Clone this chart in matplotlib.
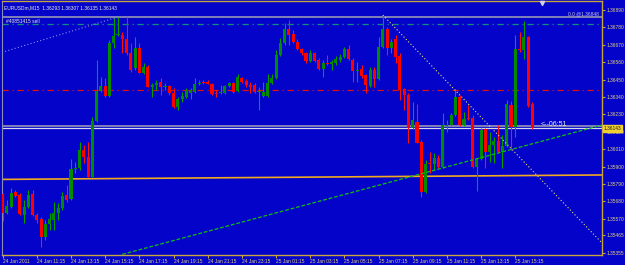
import matplotlib
matplotlib.use("Agg")
import matplotlib.pyplot as plt
import numpy as np

# EURUSDm M15, 24-25 Jan 2011, one value per bar
opens = [1.35727, 1.35607, 1.35645, 1.35740, 1.35721, 1.35594, 1.35645, 1.35727, 1.35594, 1.35569,
         1.35455, 1.35537, 1.35563, 1.35607, 1.35639, 1.35721, 1.35696, 1.35885, 1.35891, 1.36005,
         1.35961, 1.35834, 1.36189, 1.36378, 1.36410, 1.36346, 1.36681, 1.36732, 1.36732, 1.36707,
         1.36618, 1.36523, 1.36650, 1.36492, 1.36530, 1.36403, 1.36416, 1.36435, 1.36403, 1.36410,
         1.36365, 1.36277, 1.36327, 1.36340, 1.36365, 1.36372, 1.36422, 1.36435, 1.36435, 1.36422,
         1.36365, 1.36365, 1.36365, 1.36410, 1.36428, 1.36378, 1.36460, 1.36441, 1.36416, 1.36416,
         1.36372, 1.36346, 1.36346, 1.36428, 1.36460, 1.36605, 1.36681, 1.36770, 1.36738, 1.36688,
         1.36643, 1.36618, 1.36568, 1.36618, 1.36574, 1.36517, 1.36555, 1.36549, 1.36555, 1.36574,
         1.36593, 1.36643, 1.36574, 1.36504, 1.36517, 1.36479, 1.36410, 1.36511, 1.36454, 1.36656,
         1.36770, 1.36650, 1.36707, 1.36599, 1.36391, 1.36353, 1.36144, 1.36182, 1.36056, 1.35740,
         1.35923, 1.35917, 1.35954, 1.35898, 1.36157, 1.36163, 1.36226, 1.36340, 1.36163, 1.36207,
         1.36207, 1.35898, 1.35948, 1.36138, 1.35993, 1.36037, 1.36062, 1.35993, 1.36031, 1.36289,
         1.36151, 1.36643, 1.36637, 1.36719, 1.36293]
highs = [1.35733, 1.35690, 1.35765, 1.35752, 1.35733, 1.35690, 1.35752, 1.35752, 1.35607, 1.35582,
         1.35563, 1.35607, 1.35677, 1.35671, 1.35740, 1.35784, 1.35948, 1.35929, 1.36056, 1.36037,
         1.36056, 1.36214, 1.36574, 1.36466, 1.36460, 1.36700, 1.36839, 1.36846, 1.36751, 1.36846,
         1.36681, 1.36719, 1.36681, 1.36555, 1.36542, 1.36428, 1.36447, 1.36460, 1.36428, 1.36416,
         1.36397, 1.36340, 1.36372, 1.36397, 1.36397, 1.36460, 1.36447, 1.36447, 1.36447, 1.36428,
         1.36384, 1.36416, 1.36416, 1.36435, 1.36435, 1.36485, 1.36466, 1.36454, 1.36435, 1.36428,
         1.36403, 1.36435, 1.36485, 1.36485, 1.36637, 1.36713, 1.36808, 1.36827, 1.36763, 1.36707,
         1.36650, 1.36624, 1.36637, 1.36624, 1.36587, 1.36574, 1.36605, 1.36574, 1.36599, 1.36612,
         1.36656, 1.36669, 1.36587, 1.36561, 1.36542, 1.36485, 1.36530, 1.36530, 1.36719, 1.36858,
         1.36782, 1.36707, 1.36732, 1.36618, 1.36397, 1.36365, 1.36308, 1.36296, 1.36068, 1.35942,
         1.35993, 1.35986, 1.35973, 1.36239, 1.36195, 1.36239, 1.36391, 1.36353, 1.36245, 1.36289,
         1.36226, 1.35954, 1.36144, 1.36144, 1.36119, 1.36087, 1.36163, 1.36100, 1.36321, 1.36315,
         1.36732, 1.36751, 1.36820, 1.36725, 1.36307]
lows = [1.35556, 1.35601, 1.35639, 1.35708, 1.35594, 1.35544, 1.35639, 1.35588, 1.35544, 1.35392,
        1.35436, 1.35498, 1.35498, 1.35563, 1.35626, 1.35677, 1.35690, 1.35860, 1.35879, 1.35923,
        1.35834, 1.35834, 1.36182, 1.36372, 1.36340, 1.36340, 1.36650, 1.36725, 1.36618, 1.36605,
        1.36498, 1.36511, 1.36492, 1.36485, 1.36403, 1.36340, 1.36384, 1.36353, 1.36384, 1.36353,
        1.36270, 1.36258, 1.36308, 1.36334, 1.36327, 1.36365, 1.36416, 1.36422, 1.36422, 1.36353,
        1.36340, 1.36359, 1.36359, 1.36403, 1.36365, 1.36372, 1.36428, 1.36403, 1.36365, 1.36365,
        1.36258, 1.36340, 1.36340, 1.36422, 1.36454, 1.36599, 1.36669, 1.36669, 1.36681, 1.36637,
        1.36605, 1.36555, 1.36561, 1.36561, 1.36511, 1.36466, 1.36542, 1.36511, 1.36542, 1.36561,
        1.36587, 1.36574, 1.36435, 1.36435, 1.36460, 1.36365, 1.36403, 1.36403, 1.36447, 1.36650,
        1.36605, 1.36618, 1.36555, 1.36321, 1.36258, 1.36049, 1.36138, 1.36049, 1.35708, 1.35731,
        1.35860, 1.35879, 1.35891, 1.35891, 1.36119, 1.36157, 1.36220, 1.36157, 1.36157, 1.36195,
        1.35891, 1.35746, 1.35942, 1.35891, 1.35929, 1.35923, 1.35986, 1.35891, 1.36024, 1.36005,
        1.36087, 1.36624, 1.36580, 1.36277, 1.36135]
closes = [1.35607, 1.35652, 1.35733, 1.35714, 1.35601, 1.35645, 1.35721, 1.35594, 1.35563, 1.35455,
          1.35537, 1.35569, 1.35607, 1.35639, 1.35714, 1.35690, 1.35885, 1.35891, 1.36005, 1.35961,
          1.35834, 1.36189, 1.36378, 1.36410, 1.36346, 1.36681, 1.36725, 1.36738, 1.36707, 1.36618,
          1.36511, 1.36650, 1.36492, 1.36530, 1.36403, 1.36416, 1.36428, 1.36403, 1.36410, 1.36365,
          1.36277, 1.36327, 1.36346, 1.36378, 1.36384, 1.36422, 1.36428, 1.36428, 1.36425, 1.36359,
          1.36362, 1.36369, 1.36410, 1.36428, 1.36372, 1.36466, 1.36435, 1.36416, 1.36403, 1.36372,
          1.36378, 1.36372, 1.36428, 1.36460, 1.36605, 1.36681, 1.36770, 1.36732, 1.36688, 1.36643,
          1.36618, 1.36568, 1.36618, 1.36568, 1.36517, 1.36555, 1.36549, 1.36561, 1.36580, 1.36593,
          1.36643, 1.36580, 1.36504, 1.36511, 1.36473, 1.36416, 1.36511, 1.36454, 1.36656, 1.36770,
          1.36650, 1.36688, 1.36593, 1.36384, 1.36353, 1.36144, 1.36195, 1.36049, 1.35740, 1.35917,
          1.35917, 1.35954, 1.35898, 1.36163, 1.36163, 1.36226, 1.36340, 1.36163, 1.36201, 1.36201,
          1.35898, 1.35948, 1.36131, 1.35993, 1.36037, 1.36062, 1.35993, 1.36031, 1.36296, 1.36151,
          1.36643, 1.36637, 1.36719, 1.36283, 1.36143]

time_labels = ["24 Jan 2011", "24 Jan 11:15", "24 Jan 13:15", "24 Jan 15:15", "24 Jan 17:15",
               "24 Jan 19:15", "24 Jan 21:15", "24 Jan 23:15", "25 Jan 01:15", "25 Jan 03:15",
               "25 Jan 05:15", "25 Jan 07:15", "25 Jan 09:15", "25 Jan 11:15", "25 Jan 13:15",
               "25 Jan 15:15"]
price_ticks = [1.36890, 1.36780, 1.36670, 1.36560, 1.36450, 1.36340, 1.36230, 1.36120,
               1.36010, 1.35900, 1.35790, 1.35680, 1.35570, 1.35465, 1.35355]

bid = 1.36143
fibo_top = 1.36848
fibo_bottom = 1.36157
order_line = 1.36800
stop_line = 1.36384
# trendlines as (bar, price) anchor pairs
green_trend = [(28.0, 1.35345), (140.3, 1.36163)]
yellow_trend = [(89.0, 1.36858), (140.3, 1.35417)]
blue_trend = [(-0.2, 1.36622), (27.0, 1.36846)]
orange_trend = [(-0.2, 1.35819), (140.3, 1.35847)]

bg = "#0303c9"
axis_col = "#c8a43c"
text_col = "#e2d27c"
plt.rcParams["font.family"] = ["Liberation Sans", "DejaVu Sans"]
fs = 3.5

fig = plt.figure(figsize=(6.25, 2.65), dpi=100, facecolor=bg)
ax = fig.add_axes([2 / 625, 10 / 265, 600 / 625, 254 / 265])
ax.set_facecolor(bg)

o = np.array(opens); h = np.array(highs); l = np.array(lows); c = np.array(closes)
x = np.arange(len(o))
up = c >= o
body_lo = np.minimum(o, c)
body_h = np.maximum(np.abs(c - o), 0.00004)

ax.vlines(x[up], l[up], h[up], color="#00a000", lw=0.8, zorder=3)
ax.vlines(x[~up], l[~up], h[~up], color="#ff1010", lw=0.8, zorder=3)
ax.bar(x[up], body_h[up], bottom=body_lo[up], width=0.72, color="#008c00", lw=0, zorder=4)
ax.bar(x[~up], body_h[~up], bottom=body_lo[~up], width=0.72, color="#ff0000", lw=0, zorder=4)

# horizontal objects
ax.axhline(fibo_top, color="#8c8cb4", lw=1.3, zorder=2)
ax.axhline(fibo_bottom, color="#8c8cb4", lw=1.3, zorder=2)
ax.axhline(bid, color="#d8d8f0", lw=0.9, zorder=2)
ax.axhline(order_line, color="#109080", lw=0.9, ls=(0, (5, 3, 1, 3)), zorder=2)
ax.axhline(stop_line, color="#e01010", lw=0.9, ls=(0, (5, 3, 1, 3)), zorder=2)

# trendlines
ax.plot(*zip(*orange_trend), color="#f0a820", lw=1.2, zorder=2)
ax.plot(*zip(*green_trend), color="#10c010", lw=0.9, ls=(0, (3, 1.5)), zorder=5)
ax.plot(*zip(*yellow_trend), color="#e8e070", lw=0.8, ls=(0, (1, 2)), zorder=5)
ax.plot(*zip(*blue_trend), color="#8c8cf0", lw=0.8, ls=(0, (1, 2)), zorder=5)

ax.set_xlim(-0.16, 140.3)
ax.set_ylim(1.35341, 1.36947)

ax.set_xticks(np.arange(len(time_labels)) * 8)
ax.set_xticklabels(time_labels, ha="left")
ax.yaxis.tick_right()
ax.set_yticks(price_ticks)
ax.set_yticklabels([f"{p:.5f}" for p in price_ticks])
ax.tick_params(axis="x", length=2.5, width=0.8, color=axis_col, labelcolor=text_col,
               labelsize=fs, pad=0.5)
ax.tick_params(axis="y", length=2, width=0.8, color=axis_col, labelcolor=text_col,
               labelsize=fs, pad=1)
for side in ["top", "right", "bottom"]:
    ax.spines[side].set_color(axis_col)
    ax.spines[side].set_linewidth(1)
ax.spines["left"].set_color("#8c8cb4")

# texts
ax.text(0.004, 0.985, "EURUSDm,M15  1.36293 1.36307 1.36135 1.36143", transform=ax.transAxes,
        color="#e8e8d8", fontsize=fs, va="top", ha="left", zorder=6)
ax.text(0.8, order_line + 0.00002, "#40851415 sell", color="#e8e8d8", fontsize=fs,
        va="bottom", ha="left", zorder=6)
ax.text(139.6, fibo_top + 0.00003, "0.0 @1.36848", color="#c8c8d8", fontsize=fs,
        va="bottom", ha="right", zorder=6)
ax.text(126.0, bid + 0.00004, "<--06:51", color="#f0f0f0", fontsize=5,
        va="bottom", ha="left", zorder=6)
ax.plot([126.2], [1.36934], marker="v", ms=3, color="#d0d0e8", clip_on=False, zorder=6)
ax.annotate("1.36143", xy=(1.003, bid), xycoords=("axes fraction", "data"),
            fontsize=fs, color="#202020", va="center", ha="left", annotation_clip=False,
            bbox=dict(boxstyle="square,pad=0.2", fc="#f0d030", ec="#f0d030"), zorder=7)

fig.savefig("out.png", dpi=100, facecolor=bg)
